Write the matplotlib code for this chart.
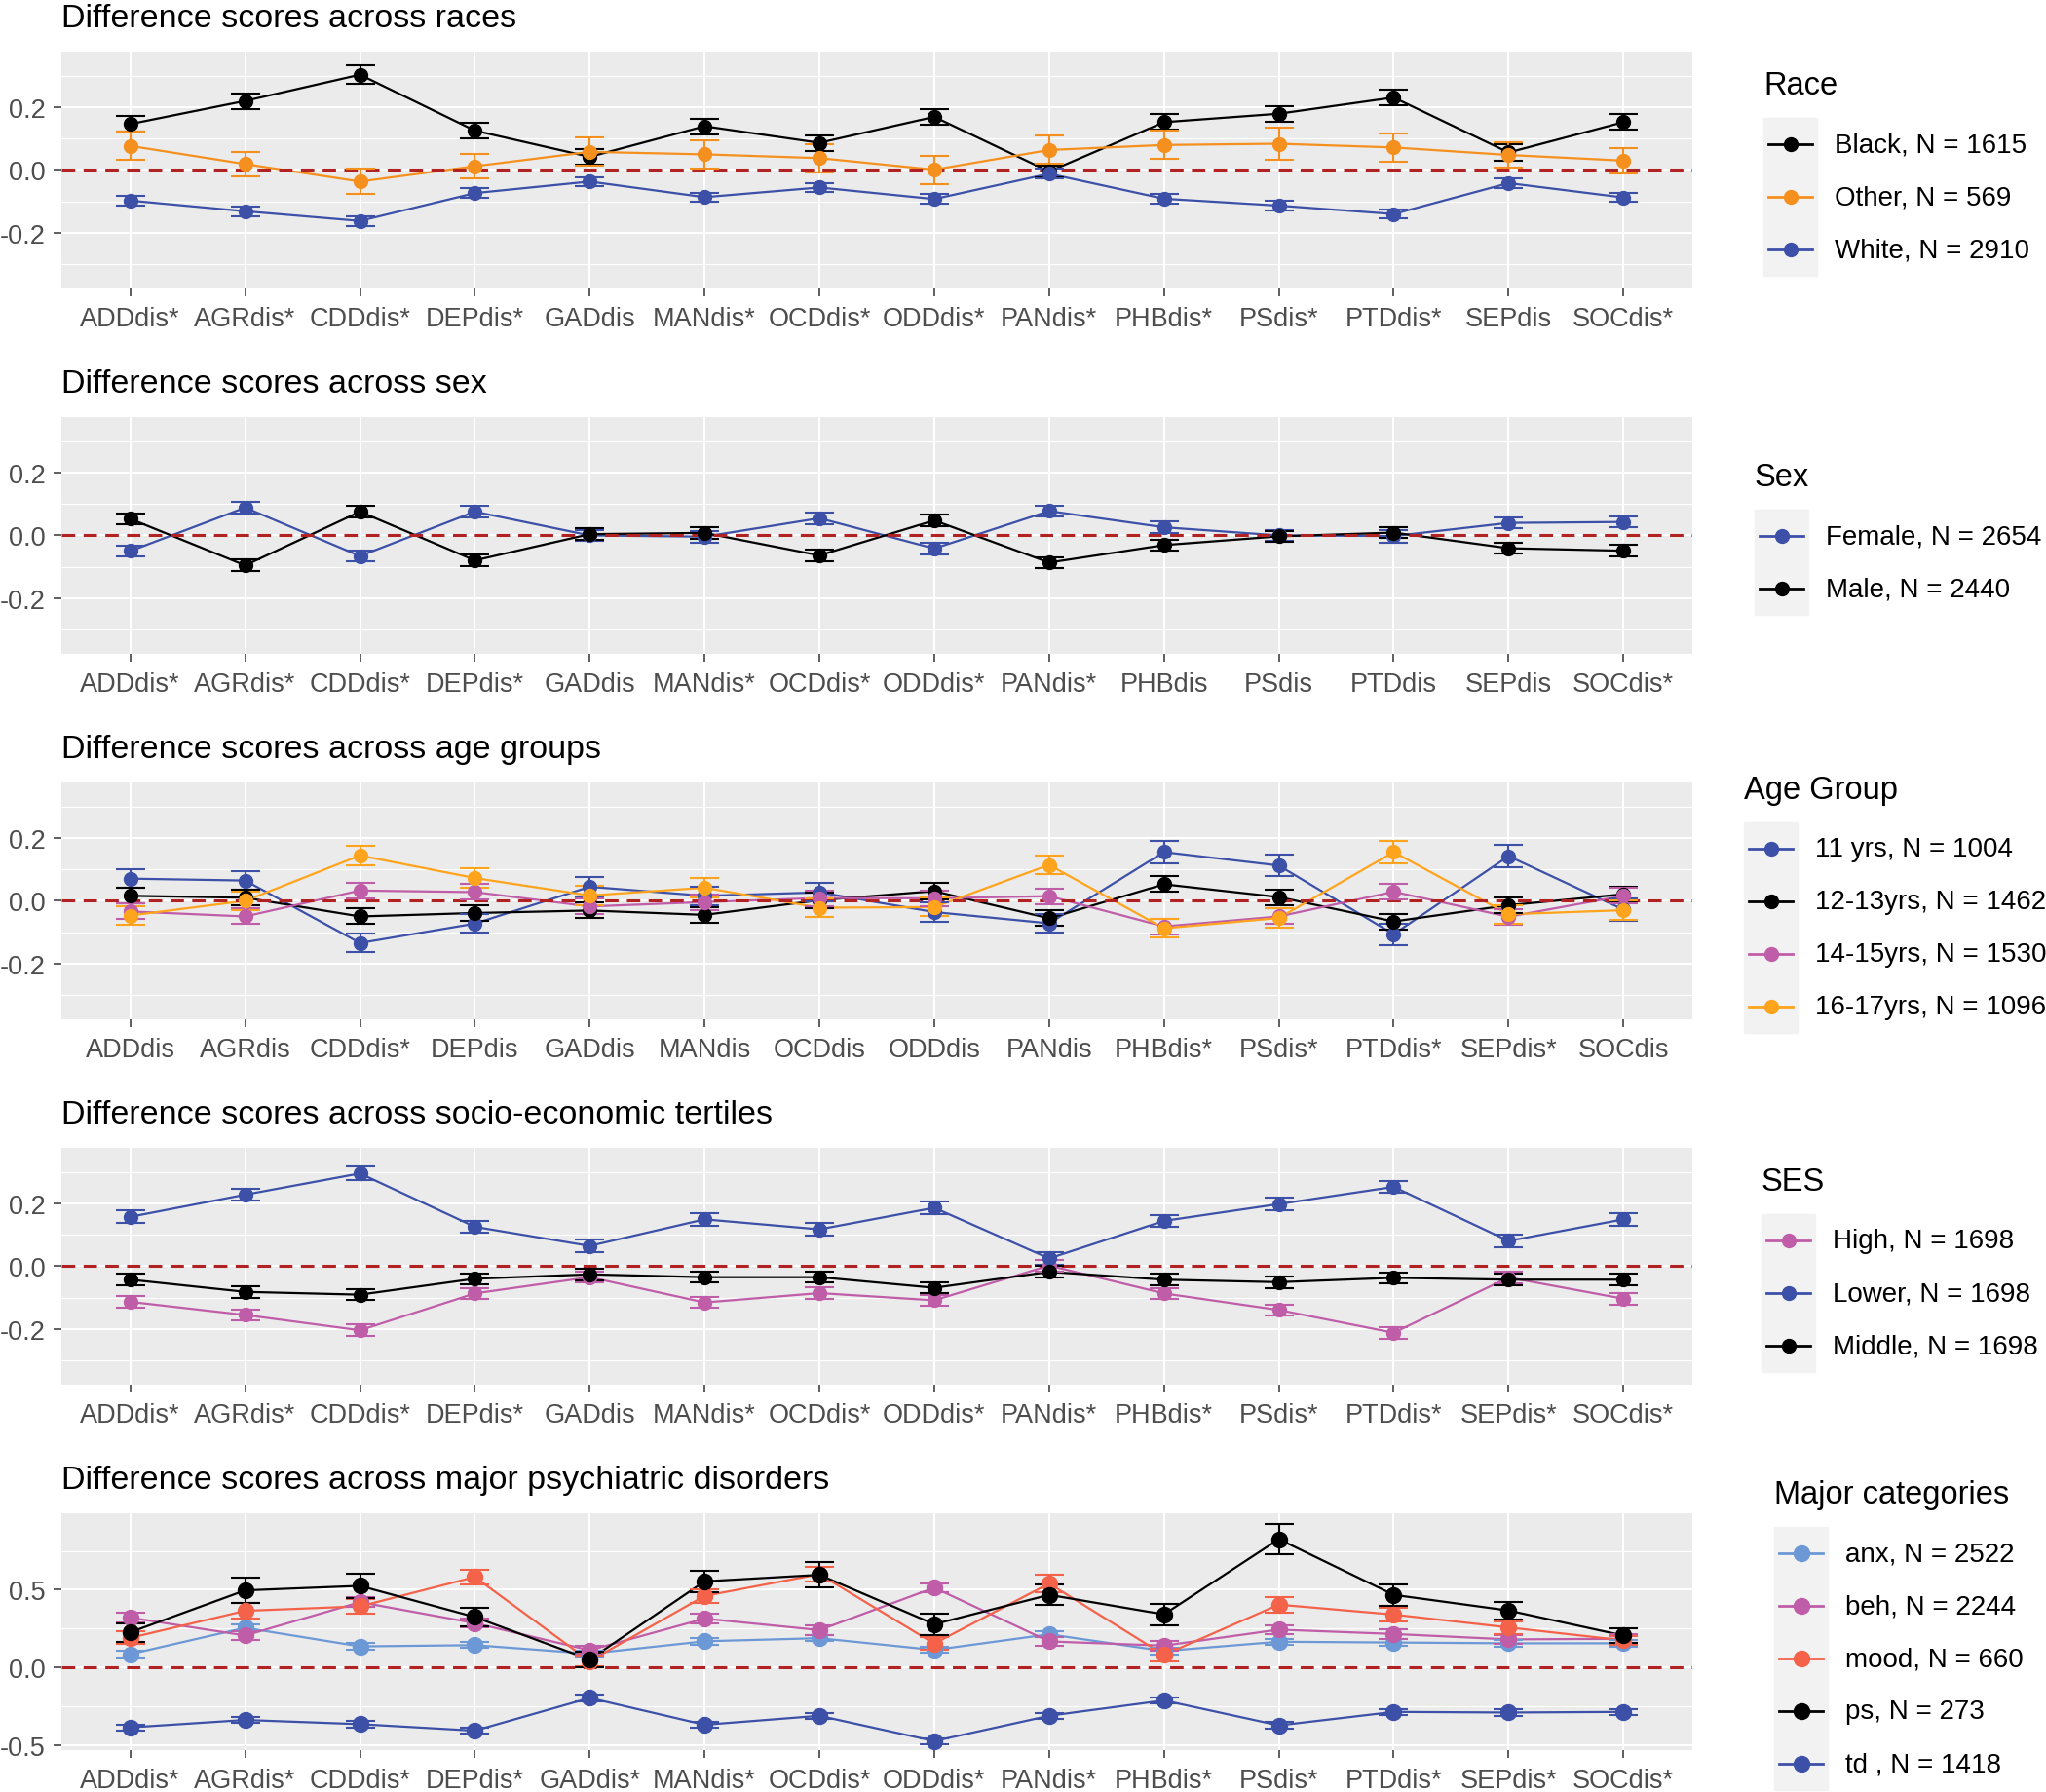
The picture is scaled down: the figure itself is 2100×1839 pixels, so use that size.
import numpy as np
import matplotlib
matplotlib.use("Agg")
import matplotlib.pyplot as plt
from matplotlib.lines import Line2D
from matplotlib.patches import Rectangle

plt.rcParams['font.family'] = ['Liberation Sans', 'DejaVu Sans']

# ---------------- data ----------------
x = np.arange(1, 15)

race_ticks = ['ADDdis*', 'AGRdis*', 'CDDdis*', 'DEPdis*', 'GADdis', 'MANdis*', 'OCDdis*',
              'ODDdis*', 'PANdis*', 'PHBdis*', 'PSdis*', 'PTDdis*', 'SEPdis', 'SOCdis*']
sex_ticks = ['ADDdis*', 'AGRdis*', 'CDDdis*', 'DEPdis*', 'GADdis', 'MANdis*', 'OCDdis*',
             'ODDdis*', 'PANdis*', 'PHBdis', 'PSdis', 'PTDdis', 'SEPdis', 'SOCdis*']
age_ticks = ['ADDdis', 'AGRdis', 'CDDdis*', 'DEPdis', 'GADdis', 'MANdis', 'OCDdis',
             'ODDdis', 'PANdis', 'PHBdis*', 'PSdis*', 'PTDdis*', 'SEPdis*', 'SOCdis']
ses_ticks = ['ADDdis*', 'AGRdis*', 'CDDdis*', 'DEPdis*', 'GADdis', 'MANdis*', 'OCDdis*',
             'ODDdis*', 'PANdis*', 'PHBdis*', 'PSdis*', 'PTDdis*', 'SEPdis*', 'SOCdis*']
major_ticks = ['ADDdis*', 'AGRdis*', 'CDDdis*', 'DEPdis*', 'GADdis*', 'MANdis*', 'OCDdis*',
               'ODDdis*', 'PANdis*', 'PHBdis*', 'PSdis*', 'PTDdis*', 'SEPdis*', 'SOCdis*']

# race
black_race = [0.147, 0.221, 0.305, 0.126, 0.042, 0.140, 0.087, 0.170, -0.005, 0.153, 0.180, 0.232, 0.056, 0.153]
black_race_err = [0.025, 0.025, 0.030, 0.025, 0.025, 0.025, 0.025, 0.025, 0.020, 0.025, 0.025, 0.025, 0.025, 0.025]
other_race = [0.077, 0.019, -0.037, 0.012, 0.058, 0.050, 0.038, 0.001, 0.064, 0.080, 0.084, 0.072, 0.048, 0.030]
other_race_err = [0.045, 0.040, 0.040, 0.040, 0.045, 0.045, 0.045, 0.045, 0.045, 0.045, 0.050, 0.045, 0.040, 0.040]
white_race = [-0.098, -0.132, -0.163, -0.074, -0.037, -0.087, -0.056, -0.093, -0.012, -0.092, -0.114, -0.141, -0.042, -0.088]
white_race_err = [0.015, 0.015, 0.015, 0.015, 0.015, 0.015, 0.015, 0.015, 0.015, 0.015, 0.015, 0.015, 0.015, 0.015]

# sex
female_sex = [-0.050, 0.089, -0.066, 0.076, 0.000, -0.004, 0.055, -0.042, 0.078, 0.026, 0.000, -0.002, 0.040, 0.043]
female_sex_err = [0.018, 0.018, 0.018, 0.018, 0.018, 0.018, 0.018, 0.018, 0.018, 0.018, 0.018, 0.020, 0.018, 0.018]
male_sex = [0.053, -0.096, 0.076, -0.080, 0.004, 0.008, -0.064, 0.048, -0.087, -0.031, -0.003, 0.009, -0.041, -0.049]
male_sex_err = [0.018, 0.018, 0.018, 0.018, 0.018, 0.018, 0.018, 0.018, 0.018, 0.018, 0.018, 0.018, 0.018, 0.018]

# age
age11 = [0.071, 0.065, -0.135, -0.073, 0.045, 0.016, 0.027, -0.036, -0.072, 0.156, 0.113, -0.107, 0.143, -0.028]
age11_err = [0.030, 0.030, 0.030, 0.030, 0.030, 0.030, 0.030, 0.030, 0.030, 0.035, 0.035, 0.035, 0.035, 0.035]
age1213 = [0.016, 0.010, -0.050, -0.039, -0.031, -0.045, 0.002, 0.031, -0.056, 0.053, 0.012, -0.066, -0.014, 0.021]
age1213_err = [0.025, 0.025, 0.025, 0.025, 0.025, 0.025, 0.025, 0.025, 0.025, 0.025, 0.025, 0.025, 0.025, 0.025]
age1415 = [-0.034, -0.050, 0.033, 0.028, -0.018, -0.004, 0.009, 0.008, 0.015, -0.082, -0.050, 0.029, -0.051, 0.016]
age1415_err = [0.025, 0.025, 0.025, 0.025, 0.025, 0.025, 0.025, 0.025, 0.025, 0.025, 0.025, 0.025, 0.025, 0.025]
age1617 = [-0.047, 0.000, 0.145, 0.073, 0.017, 0.042, -0.022, -0.020, 0.115, -0.088, -0.055, 0.156, -0.043, -0.030]
age1617_err = [0.030, 0.030, 0.030, 0.030, 0.030, 0.030, 0.030, 0.030, 0.030, 0.030, 0.030, 0.035, 0.030, 0.030]

# ses
high_ses = [-0.114, -0.156, -0.205, -0.087, -0.035, -0.116, -0.086, -0.109, 0.002, -0.087, -0.140, -0.213, -0.036, -0.104]
lower_ses = [0.158, 0.229, 0.297, 0.126, 0.065, 0.150, 0.118, 0.187, 0.025, 0.145, 0.199, 0.254, 0.081, 0.150]
middle_ses = [-0.043, -0.082, -0.091, -0.040, -0.026, -0.035, -0.035, -0.069, -0.018, -0.043, -0.051, -0.037, -0.043, -0.043]
high_ses_err = [0.018, 0.018, 0.018, 0.018, 0.018, 0.018, 0.018, 0.018, 0.018, 0.018, 0.018, 0.018, 0.018, 0.018]
lower_ses_err = [0.020, 0.020, 0.022, 0.020, 0.020, 0.020, 0.020, 0.020, 0.020, 0.020, 0.020, 0.020, 0.020, 0.020]
middle_ses_err = [0.018, 0.018, 0.018, 0.018, 0.018, 0.018, 0.018, 0.018, 0.018, 0.018, 0.018, 0.018, 0.018, 0.018]

# major categories
anx = [0.085, 0.255, 0.135, 0.143, 0.088, 0.168, 0.188, 0.112, 0.213, 0.105, 0.165, 0.160, 0.155, 0.155]
anx_err = [0.020, 0.020, 0.020, 0.020, 0.020, 0.020, 0.020, 0.020, 0.020, 0.020, 0.020, 0.020, 0.020, 0.020]
beh = [0.320, 0.205, 0.420, 0.285, 0.110, 0.314, 0.240, 0.513, 0.167, 0.140, 0.243, 0.215, 0.180, 0.184]
beh_err = [0.030, 0.030, 0.030, 0.030, 0.030, 0.030, 0.030, 0.030, 0.030, 0.030, 0.030, 0.030, 0.030, 0.030]
mood = [0.190, 0.364, 0.393, 0.582, 0.040, 0.460, 0.600, 0.153, 0.540, 0.080, 0.404, 0.340, 0.257, 0.174]
mood_err = [0.040, 0.050, 0.045, 0.045, 0.035, 0.045, 0.050, 0.040, 0.055, 0.040, 0.050, 0.045, 0.040, 0.030]
ps = [0.226, 0.496, 0.525, 0.324, 0.050, 0.554, 0.596, 0.278, 0.467, 0.341, 0.826, 0.467, 0.366, 0.205]
ps_err = [0.060, 0.080, 0.080, 0.060, 0.050, 0.070, 0.080, 0.070, 0.065, 0.070, 0.095, 0.070, 0.055, 0.045]
td = [-0.387, -0.339, -0.366, -0.408, -0.197, -0.370, -0.312, -0.475, -0.312, -0.213, -0.374, -0.287, -0.291, -0.287]
td_err = [0.020, 0.020, 0.020, 0.020, 0.020, 0.020, 0.020, 0.020, 0.020, 0.020, 0.020, 0.020, 0.020, 0.020]

BLACK = '#000000'
ORANGE = '#F5901E'
BLUE = '#3C50A8'
PINK = '#C05DA8'
YORANGE = '#FFA41C'
LBLUE = '#6C98D6'
TOMATO = '#F4624A'

panels = [
    dict(title='Difference scores across races', ticks=race_ticks, leg='Race',
         series=[('Black, N = 1615', black_race, black_race_err, BLACK),
                 ('Other, N = 569', other_race, other_race_err, ORANGE),
                 ('White, N = 2910', white_race, white_race_err, BLUE)],
         ylim=(-0.38, 0.38), major=[-0.2, 0.0, 0.2], minor=[-0.3, -0.1, 0.1, 0.3],
         ylab=['-0.2', '0.0', '0.2'], legx=1810),
    dict(title='Difference scores across sex', ticks=sex_ticks, leg='Sex',
         series=[('Female, N = 2654', female_sex, female_sex_err, BLUE),
                 ('Male, N = 2440', male_sex, male_sex_err, BLACK)],
         ylim=(-0.38, 0.38), major=[-0.2, 0.0, 0.2], minor=[-0.3, -0.1, 0.1, 0.3],
         ylab=['-0.2', '0.0', '0.2'], legx=1801),
    dict(title='Difference scores across age groups', ticks=age_ticks, leg='Age Group',
         series=[('11 yrs, N = 1004', age11, age11_err, BLUE),
                 ('12-13yrs, N = 1462', age1213, age1213_err, BLACK),
                 ('14-15yrs, N = 1530', age1415, age1415_err, PINK),
                 ('16-17yrs, N = 1096', age1617, age1617_err, YORANGE)],
         ylim=(-0.38, 0.38), major=[-0.2, 0.0, 0.2], minor=[-0.3, -0.1, 0.1, 0.3],
         ylab=['-0.2', '0.0', '0.2'], legx=1790),
    dict(title='Difference scores across socio-economic tertiles', ticks=ses_ticks, leg='SES',
         series=[('High, N = 1698', high_ses, high_ses_err, PINK),
                 ('Lower, N = 1698', lower_ses, lower_ses_err, BLUE),
                 ('Middle, N = 1698', middle_ses, middle_ses_err, BLACK)],
         ylim=(-0.38, 0.38), major=[-0.2, 0.0, 0.2], minor=[-0.3, -0.1, 0.1, 0.3],
         ylab=['-0.2', '0.0', '0.2'], legx=1808),
    dict(title='Difference scores across major psychiatric disorders', ticks=major_ticks,
         leg='Major categories',
         series=[('anx, N = 2522', anx, anx_err, LBLUE),
                 ('beh, N = 2244', beh, beh_err, PINK),
                 ('mood, N = 660', mood, mood_err, TOMATO),
                 ('ps, N = 273', ps, ps_err, BLACK),
                 ('td , N = 1418', td, td_err, BLUE)],
         ylim=(-0.535, 0.995), major=[-0.5, 0.0, 0.5], minor=[-0.25, 0.25, 0.75],
         ylab=['-0.5', '0.0', '0.5'], legx=1821),
]

W, H = 2100, 1840
fig = plt.figure(figsize=(W / 100, H / 100), dpi=100)
fig.patch.set_facecolor('white')


def fx(px):
    return px / W


def fy(py):
    return 1 - py / H


for k, p in enumerate(panels):
    top = 53.6 + 375 * k
    bot = top + 243.7
    ax = fig.add_axes([fx(63), fy(bot), fx(1674), 243.7 / H])
    ax.set_facecolor('#EBEBEB')
    for s in ax.spines.values():
        s.set_visible(False)
    ax.set_xlim(0.4, 14.6)
    ax.set_ylim(*p['ylim'])
    ax.set_xticks(x)
    ax.set_xticklabels(p['ticks'])
    ax.set_yticks(p['major'])
    ax.set_yticklabels(p['ylab'])
    ax.set_yticks(p['minor'], minor=True)
    ax.tick_params(axis='both', which='major', length=5.8, width=1.1, color='#333333',
                   labelsize=19.5, labelcolor='#4D4D4D')
    ax.tick_params(axis='x', pad=7)
    ax.tick_params(axis='y', pad=6)
    ax.tick_params(axis='y', which='minor', length=0)
    ax.grid(True, which='major', color='white', lw=1.5)
    ax.grid(True, which='minor', axis='y', color='white', lw=0.8)
    ax.set_axisbelow(True)
    ax.set_title(p['title'], loc='left', fontsize=24.5, pad=18.5, color='black')

    ax.axhline(0, color='#B22222', lw=2.2, ls=(0, (4.5, 2.8)), zorder=3.5)

    ms = 11.5 if k == 4 else 10
    for lab, vals, err, col in p['series']:
        ax.plot(x, vals, color=col, lw=1.6, zorder=3)
    for lab, vals, err, col in p['series']:
        ax.errorbar(x, vals, yerr=err, fmt='none', ecolor=col, elinewidth=1.5,
                    capsize=10.5, capthick=1.5, zorder=4)
    for lab, vals, err, col in p['series']:
        ax.plot(x, vals, 'o', color=col, ms=ms, mec=col, zorder=5)

    # legend, ggplot style, to the right of the panel
    n = len(p['series'])
    yc = (top + bot) / 2
    bg_top = yc + 28 - n * 27
    bx = p['legx']
    fig.text(fx(bx), fy(bg_top - 34), p['leg'], fontsize=23.5, va='center', ha='left')
    fig.add_artist(Rectangle((fx(bx), fy(bg_top + n * 54)), fx(55), n * 54 / H,
                             transform=fig.transFigure, color='#F2F2F2', zorder=1))
    for i, (lab, vals, err, col) in enumerate(p['series']):
        ky = bg_top + 27 + 54 * i
        fig.add_artist(Line2D([fx(bx + 5), fx(bx + 50)], [fy(ky), fy(ky)],
                              color=col, lw=2.0, zorder=2))
        fig.add_artist(Line2D([fx(bx + 27.5)], [fy(ky)], marker='o', ms=ms,
                              color=col, mec=col, lw=0, zorder=3))
        fig.text(fx(bx + 73), fy(ky), lab, fontsize=20, va='center', ha='left')

fig.savefig('out.png', dpi=100)
